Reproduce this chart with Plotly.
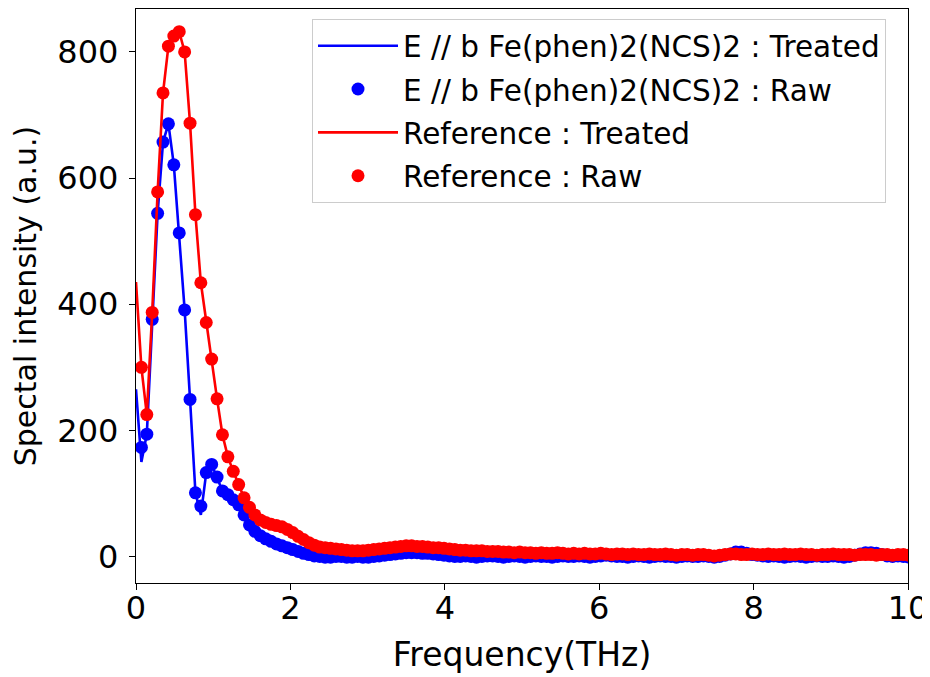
import plotly.graph_objects as go

# Frequency grid (THz)
freq = [0.07, 0.14, 0.21, 0.28, 0.35, 0.42, 0.49, 0.56, 0.63, 0.70,
        0.77, 0.84, 0.91, 0.98, 1.05, 1.12, 1.19, 1.26, 1.33, 1.40,
        1.47, 1.54, 1.61, 1.68, 1.75, 1.82, 1.89, 1.96, 2.03, 2.10,
        2.17, 2.24, 2.31, 2.38, 2.45, 2.52, 2.59, 2.66, 2.73, 2.80,
        2.87, 2.94, 3.01, 3.08, 3.15, 3.22, 3.29, 3.36, 3.43, 3.50,
        3.57, 3.64, 3.71, 3.78, 3.85, 3.92, 3.99, 4.06, 4.13, 4.20,
        4.27, 4.34, 4.41, 4.48, 4.55, 4.62, 4.69, 4.76, 4.83, 4.90,
        4.97, 5.04, 5.11, 5.18, 5.25, 5.32, 5.39, 5.46, 5.53, 5.60,
        5.67, 5.74, 5.81, 5.88, 5.95, 6.02, 6.09, 6.16, 6.23, 6.30,
        6.37, 6.44, 6.51, 6.58, 6.65, 6.72, 6.79, 6.86, 6.93, 7.00,
        7.07, 7.14, 7.21, 7.28, 7.35, 7.42, 7.49, 7.56, 7.63, 7.70,
        7.77, 7.84, 7.91, 7.98, 8.05, 8.12, 8.19, 8.26, 8.33, 8.40,
        8.47, 8.54, 8.61, 8.68, 8.75, 8.82, 8.89, 8.96, 9.03, 9.10,
        9.17, 9.24, 9.31, 9.38, 9.45, 9.52, 9.59, 9.66, 9.73, 9.80,
        9.87, 9.94, 10.01]

sample_raw = [173, 194, 376, 544, 657, 686, 621, 513, 391, 249,
              101, 80, 133, 146, 126, 104, 98, 90, 82, 66,
              50, 40, 33, 28, 24, 20, 17, 14, 11, 8,
              5, 3, 1, 0, -1, -1, 0, 0, -1, -1,
              0, -1, -1, 0, 1, 2, 3, 4, 5, 6,
              6, 6, 5, 5, 4, 3, 2, 1, 0, 0,
              1, 0, -1, 0, 1, 1, 0, -1, 0, 1,
              0, -1, 0, 1, 0, 0, -1, 0, 1, 0,
              0, 1, 0, -1, 0, 1, 2, 1, 0, 0,
              -1, 0, 1, 0, -1, 0, 1, 0, 0, -1,
              0, 1, 0, 0, 1, 0, -1, 0, 2, 4,
              7, 7, 5, 3, 2, 1, 0, 1, 0, -1,
              0, 1, 0, -1, 0, 1, 0, 0, 1, 0,
              -1, 0, 2, 4, 6, 6, 5, 3, 1, 0,
              1, 0, -1]

reference_raw = [300, 225, 387, 578, 735, 809, 825, 832, 800, 687,
                 542, 434, 371, 313, 250, 193, 158, 135, 114, 93,
                 78, 66, 58, 54, 51, 49, 47, 43, 38, 32,
                 27, 22, 18, 15, 14, 13, 12, 11, 10, 9,
                 9, 9, 10, 11, 12, 13, 14, 15, 16, 17,
                 17, 16, 16, 15, 14, 14, 13, 12, 11, 10,
                 10, 9, 9, 9, 8, 8, 8, 7, 7, 6,
                 7, 6, 6, 5, 6, 5, 5, 6, 5, 4,
                 5, 4, 5, 4, 4, 5, 4, 3, 4, 4,
                 3, 4, 3, 3, 4, 3, 3, 4, 3, 2,
                 3, 3, 2, 3, 3, 2, 1, 2, 3, 4,
                 4, 3, 3, 4, 3, 3, 4, 3, 3, 4,
                 3, 3, 4, 3, 3, 2, 3, 3, 4, 3,
                 3, 3, 2, 3, 3, 3, 2, 3, 3, 2,
                 3, 3, 2]

# Treated curves: start at 0 THz and differ from raw at a few points
treated_start_freq = 0.0
sample_treated_start = 265
reference_treated_start = 435
sample_treated_changes = {0: 150, 11: 66}

freq_treated = [treated_start_freq] + freq
sample_treated = [sample_treated_start] + [sample_treated_changes.get(i, v) for i, v in enumerate(sample_raw)]
reference_treated = [reference_treated_start] + reference_raw

names = ["E // b Fe(phen)2(NCS)2 : Treated", "E // b Fe(phen)2(NCS)2 : Raw",
         "Reference : Treated", "Reference : Raw"]
x_ticks = [0, 2, 4, 6, 8, 10]
y_ticks = [0, 200, 400, 600, 800]

BLUE = "#0000ff"
RED = "#ff0000"
FONT = "DejaVu Sans"

fig = go.Figure()
fig.add_trace(go.Scatter(x=freq_treated, y=sample_treated, mode="lines", name=names[0],
                         line=dict(color=BLUE, width=2.6), legendgroup="a"))
fig.add_trace(go.Scatter(x=freq, y=sample_raw, mode="markers", name=names[1],
                         marker=dict(color=BLUE, size=13), legendgroup="b"))
fig.add_trace(go.Scatter(x=freq_treated, y=reference_treated, mode="lines", name=names[2],
                         line=dict(color=RED, width=2.6), legendgroup="c"))
fig.add_trace(go.Scatter(x=freq, y=reference_raw, mode="markers", name=names[3],
                         marker=dict(color=RED, size=13), legendgroup="d"))

axis_common = dict(showgrid=False, zeroline=False, showline=True, linecolor="black",
                   linewidth=1.4, mirror=True, ticks="outside", ticklen=6, tickwidth=1.4,
                   tickcolor="black", automargin=False,
                   tickfont=dict(family=FONT, size=32, color="black"))

# the page body adds an 8 px offset, so the figure is 8 px smaller than the window
fig.update_layout(
    width=922, height=669,
    margin=dict(l=128, r=22, t=1, b=94),
    plot_bgcolor="white", paper_bgcolor="white",
    font=dict(family=FONT, color="black"),
    xaxis=dict(range=[0, 10], tickvals=x_ticks, ticktext=[str(t) for t in x_ticks],
               ticklabelstandoff=-10,
               title=dict(text="Frequency(THz)", font=dict(family=FONT, size=33), standoff=17),
               **axis_common),
    yaxis=dict(range=[-42, 868], tickvals=y_ticks, ticktext=[str(t) for t in y_ticks],
               ticklabelstandoff=4,
               title=dict(text="Spectal intensity (a.u.)", font=dict(family=FONT, size=30), standoff=12),
               **axis_common),
    legend=dict(x=(312 - 136) / 772, y=(583 - 19) / 574, xanchor="left", yanchor="top",
                bgcolor="white", bordercolor="#cccccc", borderwidth=1,
                font=dict(family=FONT, size=29.5, color="black"),
                tracegroupgap=2, itemwidth=80),
    showlegend=True,
)

fig.write_html("out.html")
